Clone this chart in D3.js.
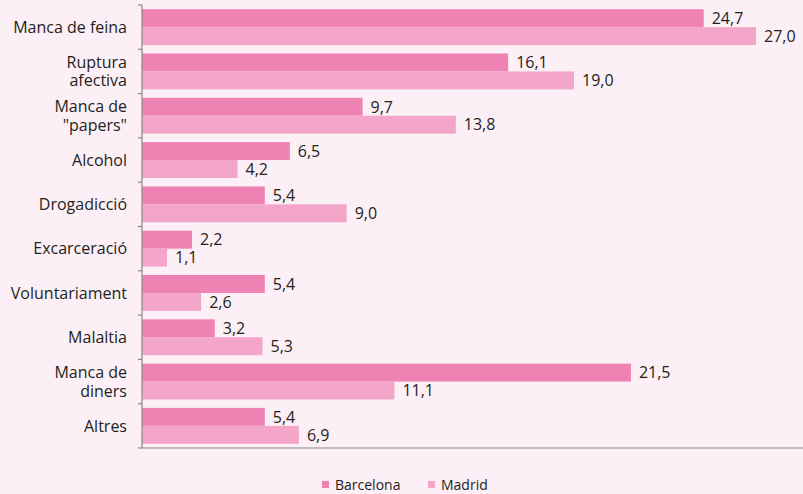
<!DOCTYPE html>
<html>
<head>
<meta charset="utf-8">
<script src="https://cdn.jsdelivr.net/npm/d3@7"></script>
<style>
  body { margin: 0; background: #fcf0f6; }
  svg { display: block; font-family: "Open Sans", sans-serif; }
</style>
</head>
<body>
<div id="chart"></div>
<script>
// categories (label lines) and values
var categories = [
  ["Manca de feina"],
  ["Ruptura", "afectiva"],
  ["Manca de", "\"papers\""],
  ["Alcohol"],
  ["Drogadicció"],
  ["Excarceració"],
  ["Voluntariament"],
  ["Malaltia"],
  ["Manca de", "diners"],
  ["Altres"]
];
var barcelona = [24.7, 16.1, 9.7, 6.5, 5.4, 2.2, 5.4, 3.2, 21.5, 5.4];
var madrid    = [27.0, 19.0, 13.8, 4.2, 9.0, 1.1, 2.6, 5.3, 11.1, 6.9];
var seriesNames = ["Barcelona", "Madrid"];
var seriesColors = ["#ee82b2", "#f3a6c9"];

var W = 803, H = 494;
var plotLeft = 142, plotTop = 5, plotBottom = 448;

var svg = d3.select("#chart").append("svg")
            .attr("width", W)
            .attr("height", H);

svg.append("rect").attr("width", W).attr("height", H).attr("fill", "#fcf0f6");

var idx = d3.range(categories.length);

var y = d3.scaleBand()
          .domain(idx)
          .range([plotTop, plotBottom])
          .paddingInner(0.19)
          .paddingOuter(0.095);

var yStep = (plotBottom - plotTop) / categories.length;

var x = d3.scaleLinear()
          .domain([0, 27])
          .range([plotLeft, 756]);

var sub = d3.scaleBand()
            .domain([0, 1])
            .range([0, y.bandwidth()]);

// bars
var rows = svg.selectAll("g.row")
              .data(idx)
              .enter().append("g")
              .attr("class", "row")
              .attr("transform", function(d) { return "translate(0," + y(d) + ")"; });

[barcelona, madrid].forEach(function(vals, s) {
  rows.append("rect")
      .attr("x", x(0))
      .attr("y", sub(s))
      .attr("width", function(d) { return x(vals[d]) - x(0); })
      .attr("height", sub.bandwidth())
      .attr("fill", seriesColors[s]);

  rows.append("text")
      .attr("x", function(d) { return x(vals[d]) + 8; })
      .attr("y", sub(s) + sub.bandwidth() / 2)
      .attr("dy", "0.36em")
      .attr("font-size", 16)
      .attr("fill", "#231f20")
      .text(function(d) { return vals[d].toFixed(1).replace(".", ","); });
});

// category labels
rows.each(function(d) {
  var lines = categories[d];
  var t = d3.select(this).append("text")
            .attr("text-anchor", "end")
            .attr("font-size", 16)
            .attr("fill", "#231f20");
  var lh = 18.5;
  var start = y.bandwidth() / 2 - (lines.length - 1) * lh / 2;
  lines.forEach(function(l, i) {
    t.append("tspan")
     .attr("x", 127)
     .attr("y", start + i * lh)
     .attr("dy", "0.36em")
     .text(l);
  });
});

// axes
var axisColor = "#8a8688";
svg.append("line")
   .attr("x1", plotLeft).attr("x2", plotLeft)
   .attr("y1", plotTop).attr("y2", plotBottom)
   .attr("stroke", axisColor).attr("stroke-width", 1.2);
svg.append("line")
   .attr("x1", plotLeft).attr("x2", W)
   .attr("y1", plotBottom).attr("y2", plotBottom)
   .attr("stroke", axisColor).attr("stroke-width", 1.2);
svg.selectAll("line.tick")
   .data(d3.range(categories.length + 1))
   .enter().append("line")
   .attr("x1", plotLeft - 4).attr("x2", plotLeft)
   .attr("y1", function(d) { return plotTop + d * yStep; })
   .attr("y2", function(d) { return plotTop + d * yStep; })
   .attr("stroke", axisColor).attr("stroke-width", 1.2);

// legend
var legendX = [322, 428];
seriesNames.forEach(function(n, i) {
  svg.append("rect")
     .attr("x", legendX[i]).attr("y", 481)
     .attr("width", 7).attr("height", 7)
     .attr("fill", seriesColors[i]);
  svg.append("text")
     .attr("x", legendX[i] + 13).attr("y", 490)
     .attr("font-size", 14)
     .attr("fill", "#231f20")
     .text(n);
});
</script>
</body>
</html>
